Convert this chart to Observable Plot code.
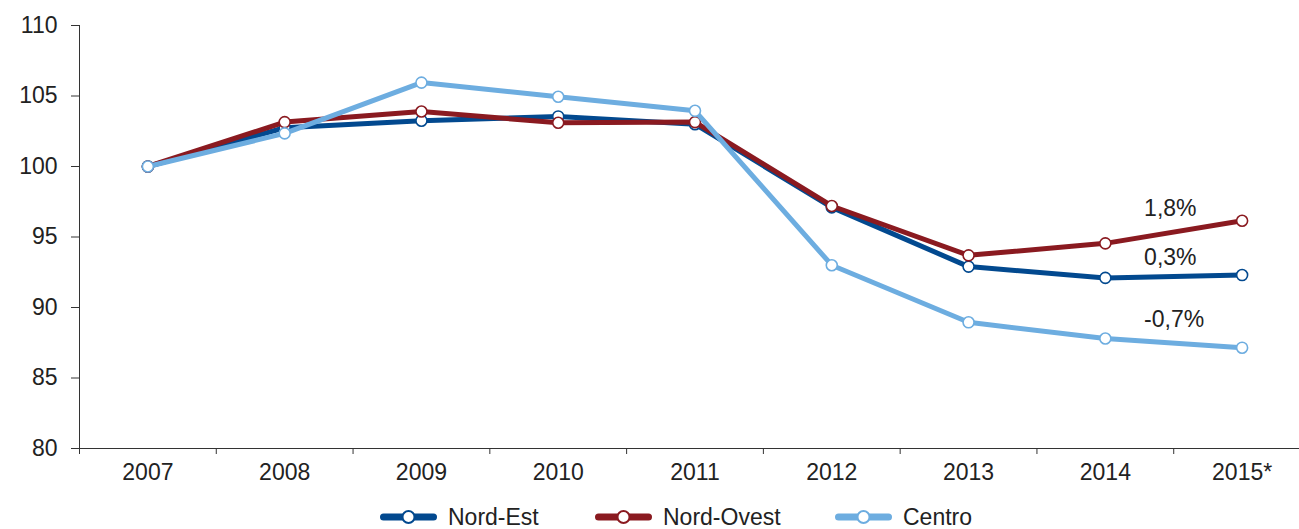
<!DOCTYPE html>
<html><head><meta charset="utf-8">
<script src="https://cdn.jsdelivr.net/npm/d3@7"></script>
<script src="https://cdn.jsdelivr.net/npm/@observablehq/plot@0.6"></script>
<style>
html,body{margin:0;background:#fff;font-family:"Liberation Sans",Arial,sans-serif;overflow:hidden;}
#legend{position:relative;height:31px;width:1299px;overflow:hidden;}
.item{position:absolute;top:6px;display:flex;align-items:center;font-size:23px;line-height:26px;color:#222;height:26px;white-space:nowrap}
.item svg{margin-right:11px;display:block}
</style></head><body><div id="chart"></div><div id="legend"></div>
<script>
const years = ["2007","2008","2009","2010","2011","2012","2013","2014","2015*"];
const nordEst   = [100, 102.75, 103.25, 103.55, 103.0, 97.1, 92.9, 92.1, 92.3];
const nordOvest = [100, 103.15, 103.9, 103.1, 103.15, 97.2, 93.7, 94.55, 96.15];
const centro    = [100, 102.35, 105.95, 104.95, 103.95, 93.0, 88.95, 87.8, 87.15];
const seriesNames  = ["Nord-Est", "Nord-Ovest", "Centro"];
const seriesValues = [nordEst, nordOvest, centro];
const seriesColors = ["#02498f", "#8a1a20", "#6dade0"];
const growthLabels = ["1,8%", "0,3%", "-0,7%"];
const growthLabelAt = [96.98, 93.57, 89.13];
const yTicks = [80, 85, 90, 95, 100, 105, 110];

const rows = [];
seriesNames.forEach((s, k) => seriesValues[k].forEach((v, i) => rows.push({series: s, i, year: years[i], value: v})));

const marks = [
  Plot.ruleX([-0.5], {stroke: "#333", strokeWidth: 1}),
  Plot.ruleY([80], {stroke: "#333", strokeWidth: 1}),
  Plot.axisY({ticks: yTicks, tickSize: 8, tickPadding: 14, fontSize: 23, color: "#222", stroke: "#333", label: null}),
  Plot.axisX({ticks: d3.range(-0.5, 9, 1), tickSize: 6, tickFormat: () => "", stroke: "#333", label: null}),
  Plot.axisX({ticks: d3.range(0, 9), tickSize: 0, tickPadding: 15, tickFormat: i => years[i], fontSize: 23, color: "#222", label: null})
];
seriesNames.forEach((s, k) => {
  const d = rows.filter(r => r.series === s);
  marks.push(Plot.line(d, {x: "i", y: "value", stroke: seriesColors[k], strokeWidth: 5}));
  marks.push(Plot.dot(d, {x: "i", y: "value", r: 5.5, fill: "white", stroke: seriesColors[k], strokeWidth: 1.6}));
});
marks.push(Plot.text(growthLabels, {x: () => 8, y: (d, j) => growthLabelAt[j], text: d => d, dx: -98, textAnchor: "start", fontSize: 23, fill: "#222"}));

const chart = Plot.plot({
  width: 1299, height: 498,
  marginLeft: 79, marginRight: 0, marginTop: 25, marginBottom: 50,
  style: {fontFamily: "'Liberation Sans', Arial, sans-serif", background: "white", overflow: "visible"},
  x: {type: "linear", domain: [-0.5, 8.5], range: [79, 1310], axis: null},
  y: {domain: [80, 110], axis: null},
  marks
});
document.getElementById("chart").appendChild(chart);

const legendLeft = [380, 595, 835];
const legend = document.getElementById("legend");
seriesNames.forEach((s, k) => {
  const item = document.createElement("div");
  item.className = "item";
  item.style.left = legendLeft[k] + "px";
  item.innerHTML = `<svg width="57" height="16"><line x1="3.5" y1="8" x2="53.5" y2="8" stroke="${seriesColors[k]}" stroke-width="7" stroke-linecap="round"/><circle cx="28.5" cy="8" r="6" fill="white" stroke="${seriesColors[k]}" stroke-width="2"/></svg><span>${s}</span>`;
  legend.appendChild(item);
});
</script></body></html>
